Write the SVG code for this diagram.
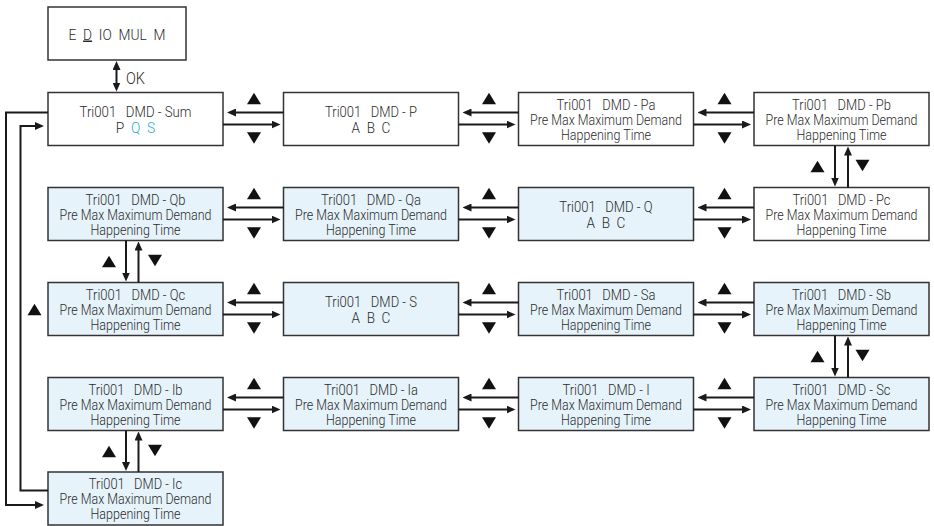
<svg xmlns="http://www.w3.org/2000/svg" xmlns:xlink="http://www.w3.org/1999/xlink" width="934" height="526" viewBox="0 0 934 526">
<style>
.box{fill:#ffffff;stroke:#333333;stroke-width:1.5}
.blue{fill:#e6f3fa}
.t{font-family:Roboto,"Liberation Sans",sans-serif;font-weight:300;font-size:14px;fill:#2b2b2b;text-anchor:middle;white-space:pre}
.ln{fill:none;stroke:#1a1a1a;stroke-width:2}
.tri{fill:#111111}
.cy{fill:#29abe2}
</style>
<defs>
<marker id="ah" viewBox="0 0 9 8" refX="5" refY="4" markerWidth="9" markerHeight="8" markerUnits="userSpaceOnUse" orient="auto-start-reverse"><path d="M0,0 L9,4 L0,8 z" fill="#1a1a1a"/></marker>
<path id="up" d="M-7,5.75 L7,5.75 L0,-5.75 z"/>
<path id="dn" d="M-7,-5.75 L7,-5.75 L0,5.75 z"/>
</defs>

<g id="n-menu">
<rect class="box" x="48" y="7" width="138" height="53"/>
<text class="t" xml:space="preserve" x="117" y="39.5" textLength="97" lengthAdjust="spacingAndGlyphs" style="font-size:15px">E  <tspan text-decoration="underline">D</tspan>  IO  MUL  M</text>
</g>

<g id="n-sum">
<rect class="box" x="48" y="92.5" width="175" height="53"/>
<text class="t" xml:space="preserve" x="135.5" y="117" textLength="112" lengthAdjust="spacingAndGlyphs">Tri001   DMD - Sum</text>
<text class="t" xml:space="preserve" x="135.5" y="132.5" textLength="39.5" lengthAdjust="spacingAndGlyphs">P  <tspan class="cy">Q</tspan>  <tspan class="cy">S</tspan></text>
</g>
<g id="n-p">
<rect class="box" x="283.5" y="92.5" width="175" height="53"/>
<text class="t" xml:space="preserve" x="371" y="117" textLength="92" lengthAdjust="spacingAndGlyphs">Tri001   DMD - P</text>
<text class="t" xml:space="preserve" x="371" y="132.5" textLength="38.8" lengthAdjust="spacingAndGlyphs">A  B  C</text>
</g>
<g id="n-pa">
<rect class="box" x="518.5" y="92.5" width="175" height="53"/>
<text class="t" xml:space="preserve" x="606" y="109.5" textLength="98.8" lengthAdjust="spacingAndGlyphs">Tri001   DMD - Pa</text>
<text class="t" x="606" y="124.5" textLength="152" lengthAdjust="spacingAndGlyphs">Pre Max Maximum Demand</text>
<text class="t" x="606" y="139.5" textLength="90" lengthAdjust="spacingAndGlyphs">Happening Time</text>
</g>
<g id="n-pb">
<rect class="box" x="754" y="92.5" width="175" height="53"/>
<text class="t" xml:space="preserve" x="841.5" y="109.5" textLength="98.8" lengthAdjust="spacingAndGlyphs">Tri001   DMD - Pb</text>
<text class="t" x="841.5" y="124.5" textLength="152" lengthAdjust="spacingAndGlyphs">Pre Max Maximum Demand</text>
<text class="t" x="841.5" y="139.5" textLength="90" lengthAdjust="spacingAndGlyphs">Happening Time</text>
</g>

<g id="n-qb">
<rect class="box blue" x="48" y="187.5" width="175" height="53"/>
<text class="t" xml:space="preserve" x="135.5" y="204.5" textLength="100" lengthAdjust="spacingAndGlyphs">Tri001   DMD - Qb</text>
<text class="t" x="135.5" y="219.5" textLength="152" lengthAdjust="spacingAndGlyphs">Pre Max Maximum Demand</text>
<text class="t" x="135.5" y="234.5" textLength="90" lengthAdjust="spacingAndGlyphs">Happening Time</text>
</g>
<g id="n-qa">
<rect class="box blue" x="283.5" y="187.5" width="175" height="53"/>
<text class="t" xml:space="preserve" x="371" y="204.5" textLength="100" lengthAdjust="spacingAndGlyphs">Tri001   DMD - Qa</text>
<text class="t" x="371" y="219.5" textLength="152" lengthAdjust="spacingAndGlyphs">Pre Max Maximum Demand</text>
<text class="t" x="371" y="234.5" textLength="90" lengthAdjust="spacingAndGlyphs">Happening Time</text>
</g>
<g id="n-q">
<rect class="box blue" x="518.5" y="187.5" width="175" height="53"/>
<text class="t" xml:space="preserve" x="606" y="212" textLength="93.3" lengthAdjust="spacingAndGlyphs">Tri001   DMD - Q</text>
<text class="t" xml:space="preserve" x="606" y="227.5" textLength="38.8" lengthAdjust="spacingAndGlyphs">A  B  C</text>
</g>
<g id="n-pc">
<rect class="box" x="754" y="187.5" width="175" height="53"/>
<text class="t" xml:space="preserve" x="841.5" y="204.5" textLength="98.1" lengthAdjust="spacingAndGlyphs">Tri001   DMD - Pc</text>
<text class="t" x="841.5" y="219.5" textLength="152" lengthAdjust="spacingAndGlyphs">Pre Max Maximum Demand</text>
<text class="t" x="841.5" y="234.5" textLength="90" lengthAdjust="spacingAndGlyphs">Happening Time</text>
</g>

<g id="n-qc">
<rect class="box blue" x="48" y="282.5" width="175" height="53"/>
<text class="t" xml:space="preserve" x="135.5" y="299.5" textLength="99.5" lengthAdjust="spacingAndGlyphs">Tri001   DMD - Qc</text>
<text class="t" x="135.5" y="314.5" textLength="152" lengthAdjust="spacingAndGlyphs">Pre Max Maximum Demand</text>
<text class="t" x="135.5" y="329.5" textLength="90" lengthAdjust="spacingAndGlyphs">Happening Time</text>
</g>
<g id="n-s">
<rect class="box blue" x="283.5" y="282.5" width="175" height="53"/>
<text class="t" xml:space="preserve" x="371" y="307" textLength="92" lengthAdjust="spacingAndGlyphs">Tri001   DMD - S</text>
<text class="t" xml:space="preserve" x="371" y="322.5" textLength="38.8" lengthAdjust="spacingAndGlyphs">A  B  C</text>
</g>
<g id="n-sa">
<rect class="box blue" x="518.5" y="282.5" width="175" height="53"/>
<text class="t" xml:space="preserve" x="606" y="299.5" textLength="98.8" lengthAdjust="spacingAndGlyphs">Tri001   DMD - Sa</text>
<text class="t" x="606" y="314.5" textLength="152" lengthAdjust="spacingAndGlyphs">Pre Max Maximum Demand</text>
<text class="t" x="606" y="329.5" textLength="90" lengthAdjust="spacingAndGlyphs">Happening Time</text>
</g>
<g id="n-sb">
<rect class="box blue" x="754" y="282.5" width="175" height="53"/>
<text class="t" xml:space="preserve" x="841.5" y="299.5" textLength="98.8" lengthAdjust="spacingAndGlyphs">Tri001   DMD - Sb</text>
<text class="t" x="841.5" y="314.5" textLength="152" lengthAdjust="spacingAndGlyphs">Pre Max Maximum Demand</text>
<text class="t" x="841.5" y="329.5" textLength="90" lengthAdjust="spacingAndGlyphs">Happening Time</text>
</g>

<g id="n-ib">
<rect class="box blue" x="48" y="377.5" width="175" height="53"/>
<text class="t" xml:space="preserve" x="135.5" y="394.5" textLength="94" lengthAdjust="spacingAndGlyphs">Tri001   DMD - Ib</text>
<text class="t" x="135.5" y="409.5" textLength="152" lengthAdjust="spacingAndGlyphs">Pre Max Maximum Demand</text>
<text class="t" x="135.5" y="424.5" textLength="90" lengthAdjust="spacingAndGlyphs">Happening Time</text>
</g>
<g id="n-ia">
<rect class="box blue" x="283.5" y="377.5" width="175" height="53"/>
<text class="t" xml:space="preserve" x="371" y="394.5" textLength="94" lengthAdjust="spacingAndGlyphs">Tri001   DMD - Ia</text>
<text class="t" x="371" y="409.5" textLength="152" lengthAdjust="spacingAndGlyphs">Pre Max Maximum Demand</text>
<text class="t" x="371" y="424.5" textLength="90" lengthAdjust="spacingAndGlyphs">Happening Time</text>
</g>
<g id="n-i">
<rect class="box blue" x="518.5" y="377.5" width="175" height="53"/>
<text class="t" xml:space="preserve" x="606" y="394.5" textLength="87.2" lengthAdjust="spacingAndGlyphs">Tri001   DMD - I</text>
<text class="t" x="606" y="409.5" textLength="152" lengthAdjust="spacingAndGlyphs">Pre Max Maximum Demand</text>
<text class="t" x="606" y="424.5" textLength="90" lengthAdjust="spacingAndGlyphs">Happening Time</text>
</g>
<g id="n-sc">
<rect class="box blue" x="754" y="377.5" width="175" height="53"/>
<text class="t" xml:space="preserve" x="841.5" y="394.5" textLength="98.1" lengthAdjust="spacingAndGlyphs">Tri001   DMD - Sc</text>
<text class="t" x="841.5" y="409.5" textLength="152" lengthAdjust="spacingAndGlyphs">Pre Max Maximum Demand</text>
<text class="t" x="841.5" y="424.5" textLength="90" lengthAdjust="spacingAndGlyphs">Happening Time</text>
</g>

<g id="n-ic">
<rect class="box blue" x="48" y="472" width="175" height="53"/>
<text class="t" xml:space="preserve" x="135.5" y="489" textLength="93.3" lengthAdjust="spacingAndGlyphs">Tri001   DMD - Ic</text>
<text class="t" x="135.5" y="504" textLength="152" lengthAdjust="spacingAndGlyphs">Pre Max Maximum Demand</text>
<text class="t" x="135.5" y="519" textLength="90" lengthAdjust="spacingAndGlyphs">Happening Time</text>
</g>

<g id="connectors">
<path class="ln" d="M116.5,65 V87.5" marker-start="url(#ah)" marker-end="url(#ah)"/>
<text x="126" y="83.5" style="font-family:Roboto,'Liberation Sans',sans-serif;font-weight:300;font-size:16px;fill:#2b2b2b" textLength="19" lengthAdjust="spacingAndGlyphs">OK</text>

<!-- row 1 -->
<path class="ln" d="M283.5,112.5 H231" marker-end="url(#ah)"/>
<path class="ln" d="M223,124.5 H276.5" marker-end="url(#ah)"/>
<path class="ln" d="M518.5,112.5 H466.5" marker-end="url(#ah)"/>
<path class="ln" d="M458.5,124.5 H511.5" marker-end="url(#ah)"/>
<path class="ln" d="M754,112.5 H701.5" marker-end="url(#ah)"/>
<path class="ln" d="M693.5,124.5 H747" marker-end="url(#ah)"/>
<!-- row 2 -->
<path class="ln" d="M283.5,207.5 H231" marker-end="url(#ah)"/>
<path class="ln" d="M223,219.5 H276.5" marker-end="url(#ah)"/>
<path class="ln" d="M518.5,207.5 H466.5" marker-end="url(#ah)"/>
<path class="ln" d="M458.5,219.5 H511.5" marker-end="url(#ah)"/>
<path class="ln" d="M754,207.5 H701.5" marker-end="url(#ah)"/>
<path class="ln" d="M693.5,219.5 H747" marker-end="url(#ah)"/>
<!-- row 3 -->
<path class="ln" d="M283.5,302.5 H231" marker-end="url(#ah)"/>
<path class="ln" d="M223,314.5 H276.5" marker-end="url(#ah)"/>
<path class="ln" d="M518.5,302.5 H466.5" marker-end="url(#ah)"/>
<path class="ln" d="M458.5,314.5 H511.5" marker-end="url(#ah)"/>
<path class="ln" d="M754,302.5 H701.5" marker-end="url(#ah)"/>
<path class="ln" d="M693.5,314.5 H747" marker-end="url(#ah)"/>
<!-- row 4 -->
<path class="ln" d="M283.5,397.5 H231" marker-end="url(#ah)"/>
<path class="ln" d="M223,409.5 H276.5" marker-end="url(#ah)"/>
<path class="ln" d="M518.5,397.5 H466.5" marker-end="url(#ah)"/>
<path class="ln" d="M458.5,409.5 H511.5" marker-end="url(#ah)"/>
<path class="ln" d="M754,397.5 H701.5" marker-end="url(#ah)"/>
<path class="ln" d="M693.5,409.5 H747" marker-end="url(#ah)"/>

<!-- vertical -->
<path class="ln" d="M835,145.5 V182.5" marker-end="url(#ah)"/>
<path class="ln" d="M848,187.5 V150.5" marker-end="url(#ah)"/>
<path class="ln" d="M835,335.5 V372.5" marker-end="url(#ah)"/>
<path class="ln" d="M848,377.5 V340.5" marker-end="url(#ah)"/>
<path class="ln" d="M126,240.5 V277.5" marker-end="url(#ah)"/>
<path class="ln" d="M138.5,282.5 V245.5" marker-end="url(#ah)"/>
<path class="ln" d="M126,430.5 V467" marker-end="url(#ah)"/>
<path class="ln" d="M138.5,472 V435.5" marker-end="url(#ah)"/>

<!-- loop -->
<path class="ln" d="M48,112.5 H6 V505 H40" marker-end="url(#ah)"/>
<path class="ln" d="M48,490.5 H20.5 V126 H40" marker-end="url(#ah)"/>

<!-- key triangles -->
<g class="tri">
<use xlink:href="#up" x="254" y="98.5"/><use xlink:href="#dn" x="254" y="138"/>
<use xlink:href="#up" x="489" y="98.5"/><use xlink:href="#dn" x="489" y="138"/>
<use xlink:href="#up" x="724.5" y="98.5"/><use xlink:href="#dn" x="724.5" y="138"/>
<use xlink:href="#up" x="254" y="193.5"/><use xlink:href="#dn" x="254" y="233"/>
<use xlink:href="#up" x="489" y="193.5"/><use xlink:href="#dn" x="489" y="233"/>
<use xlink:href="#up" x="724.5" y="193.5"/><use xlink:href="#dn" x="724.5" y="233"/>
<use xlink:href="#up" x="254" y="288.5"/><use xlink:href="#dn" x="254" y="328"/>
<use xlink:href="#up" x="489" y="288.5"/><use xlink:href="#dn" x="489" y="328"/>
<use xlink:href="#up" x="724.5" y="288.5"/><use xlink:href="#dn" x="724.5" y="328"/>
<use xlink:href="#up" x="254" y="383.5"/><use xlink:href="#dn" x="254" y="423"/>
<use xlink:href="#up" x="489" y="383.5"/><use xlink:href="#dn" x="489" y="423"/>
<use xlink:href="#up" x="724.5" y="383.5"/><use xlink:href="#dn" x="724.5" y="423"/>
<use xlink:href="#up" x="817.5" y="166.5"/><use xlink:href="#dn" x="862.5" y="165.5"/>
<use xlink:href="#up" x="817.5" y="356.5"/><use xlink:href="#dn" x="862.5" y="355.5"/>
<use xlink:href="#up" x="109" y="261.5"/><use xlink:href="#dn" x="155" y="260.5"/>
<use xlink:href="#up" x="109" y="451.5"/><use xlink:href="#dn" x="155" y="450.5"/>
<use xlink:href="#up" x="34.5" y="309.5"/>
</g>
</g>
</svg>
